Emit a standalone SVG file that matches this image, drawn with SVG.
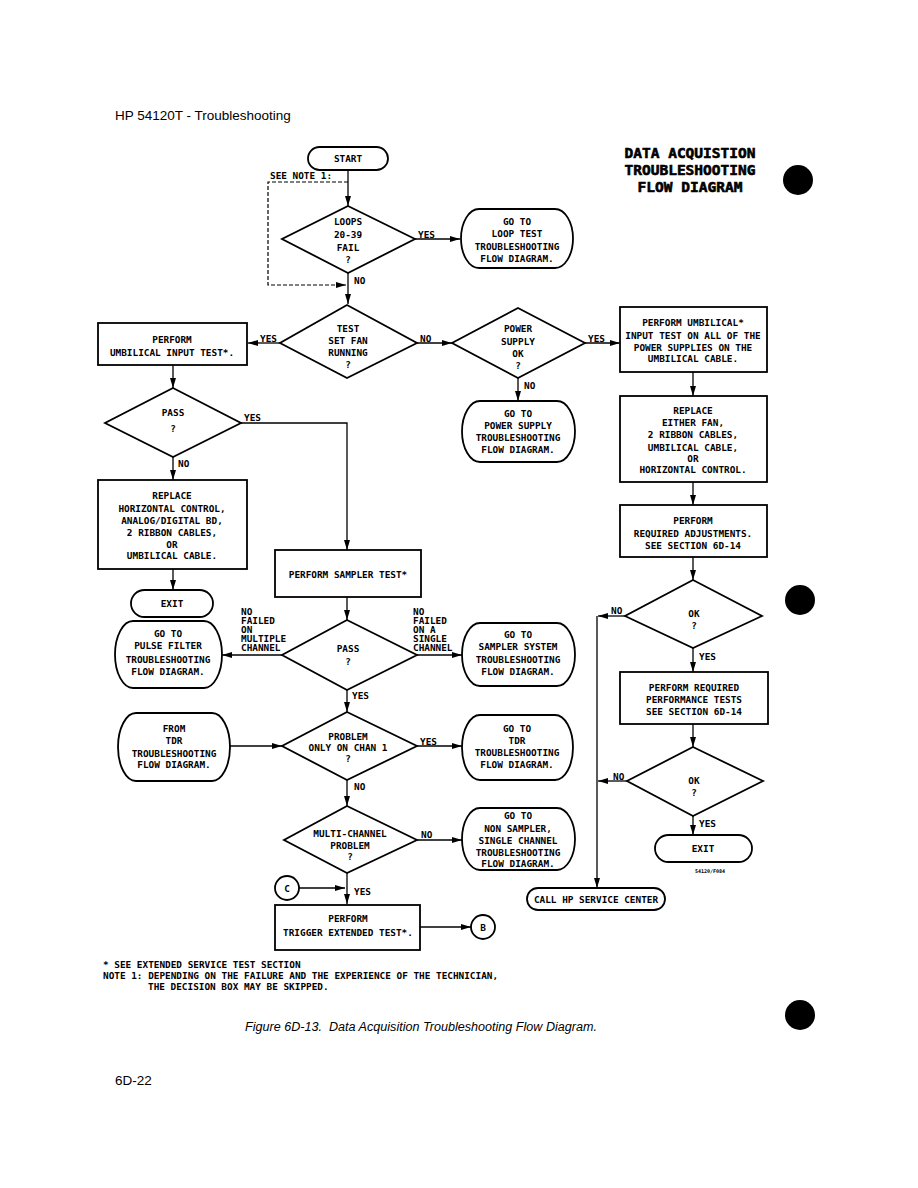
<svg xmlns="http://www.w3.org/2000/svg" width="918" height="1188" viewBox="0 0 918 1188">
<defs>
<marker id="ah" viewBox="0 0 10 6" refX="10" refY="3" markerWidth="10" markerHeight="6" markerUnits="userSpaceOnUse" orient="auto">
<path d="M0,0 L10,3 L0,6 Z" fill="#000"/>
</marker>
</defs>
<style>
.n{fill:#fff;stroke:#000;stroke-width:1.8}
.c{fill:none;stroke:#000;stroke-width:1.3;marker-end:url(#ah)}
.p{fill:none;stroke:#000;stroke-width:1.3}
.d{fill:none;stroke:#000;stroke-width:1.2;stroke-dasharray:4 2;marker-end:url(#ah)}
text{font-family:"DejaVu Sans Mono","Liberation Mono",monospace;font-weight:bold;font-size:9.4px;fill:#000;dominant-baseline:central}
.m{text-anchor:middle}
.s{text-anchor:start}
.ttl{font-size:14.5px;text-anchor:middle;stroke:#000;stroke-width:0.6}
.pg{font-family:"Liberation Sans",Arial,sans-serif;font-weight:normal;font-size:13.5px}
.cap{font-family:"Liberation Sans",Arial,sans-serif;font-weight:normal;font-style:italic;font-size:12.5px}
.tiny{font-size:5px;text-anchor:middle}
</style>
<rect width="918" height="1188" fill="#fff"/>

<text class="pg s" x="115" y="115">HP 54120T - Troubleshooting</text>
<g id="title">
<text class="ttl" x="690" y="153">DATA ACQUISTION</text>
<text class="ttl" x="690" y="170">TROUBLESHOOTING</text>
<text class="ttl" x="690" y="187">FLOW DIAGRAM</text>
</g>
<circle cx="798" cy="180" r="15" fill="#000"/>
<circle cx="800" cy="600" r="15" fill="#000"/>
<circle cx="800" cy="1015" r="15" fill="#000"/>

<g id="connectors">
<path class="c" d="M348,170 V206"/>
<path class="d" d="M348,182 H268 V285 H346"/>
<path class="c" d="M415,239 H460"/>
<path class="c" d="M348,273 V304"/>
<path class="c" d="M280,343 H248"/>
<path class="c" d="M417,343 H452"/>
<path class="c" d="M585,343 H620"/>
<path class="c" d="M518,378 V401"/>
<path class="c" d="M173,365 V388"/>
<path class="c" d="M241,423 H347 V550"/>
<path class="c" d="M173,457 V480"/>
<path class="c" d="M173,569 V590"/>
<path class="c" d="M347,597 V620"/>
<path class="c" d="M282,655 H222"/>
<path class="c" d="M417,655 H462"/>
<path class="c" d="M347,690 V712"/>
<path class="c" d="M230,746 H282"/>
<path class="c" d="M417,746 H462"/>
<path class="c" d="M347,780 V806"/>
<path class="c" d="M417,840 H462"/>
<path class="c" d="M347,873 V904"/>
<path class="c" d="M299,888 H345"/>
<path class="c" d="M418,927 H471"/>
<path class="c" d="M693,372 V396"/>
<path class="c" d="M693,482 V505"/>
<path class="c" d="M693,557 V580"/>
<path class="c" d="M625,616 H598"/>
<path class="c" d="M597,616 V888"/>
<path class="c" d="M693,648 V672"/>
<path class="c" d="M693,724 V747"/>
<path class="c" d="M627,781 H598"/>
<path class="c" d="M693,816 V835"/>
</g>

<g id="labels">
<text class="s" x="270" y="175">SEE NOTE 1:</text>
<text class="s" x="418" y="234">YES</text>
<text class="s" x="354" y="280">NO</text>
<text class="s" x="260" y="338">YES</text>
<text class="s" x="420" y="338">NO</text>
<text class="s" x="588" y="338">YES</text>
<text class="s" x="524" y="385">NO</text>
<text class="s" x="244" y="417">YES</text>
<text class="s" x="178" y="463">NO</text>
<text class="s" x="241" y="611">NO</text>
<text class="s" x="241" y="620">FAILED</text>
<text class="s" x="241" y="629">ON</text>
<text class="s" x="241" y="638">MULTIPLE</text>
<text class="s" x="241" y="647">CHANNEL</text>
<text class="s" x="413" y="611">NO</text>
<text class="s" x="413" y="620">FAILED</text>
<text class="s" x="413" y="629">ON A</text>
<text class="s" x="413" y="638">SINGLE</text>
<text class="s" x="413" y="647">CHANNEL</text>
<text class="s" x="352" y="695">YES</text>
<text class="s" x="420" y="741">YES</text>
<text class="s" x="354" y="786">NO</text>
<text class="s" x="421" y="834">NO</text>
<text class="s" x="354" y="891">YES</text>
<text class="s" x="611" y="610">NO</text>
<text class="s" x="699" y="656">YES</text>
<text class="s" x="613" y="776">NO</text>
<text class="s" x="699" y="823">YES</text>
<text class="tiny" x="710" y="871">54120/F084</text>
</g>

<g id="start"><rect class="n" x="308" y="147" width="80" height="23" rx="11.5"/><text class="m" x="348" y="158.5">START</text></g>

<g id="loops"><path class="n" d="M348,206 L415,239 L348,273 L282,239 Z"/>
<text class="m" x="348" y="221">LOOPS</text><text class="m" x="348" y="234">20-39</text><text class="m" x="348" y="247">FAIL</text><text class="m" x="348" y="259">?</text></g>

<g id="loopTest"><rect class="n" x="461" y="209" width="112" height="59" rx="18" ry="29.5"/>
<text class="m" x="517" y="221">GO TO</text><text class="m" x="517" y="233">LOOP TEST</text><text class="m" x="517" y="246">TROUBLESHOOTING</text><text class="m" x="517" y="258">FLOW DIAGRAM.</text></g>

<g id="fan"><path class="n" d="M347,305 L417,343 L347,378 L280,343 Z"/>
<text class="m" x="348" y="328">TEST</text><text class="m" x="348" y="340">SET FAN</text><text class="m" x="348" y="352">RUNNING</text><text class="m" x="348" y="364">?</text></g>

<g id="umbTest"><rect class="n" x="98" y="323" width="149" height="42"/>
<text class="m" x="172" y="339">PERFORM</text><text class="m" x="172" y="352">UMBILICAL INPUT TEST*.</text></g>

<g id="power"><path class="n" d="M518,308 L585,343 L518,378 L452,343 Z"/>
<text class="m" x="518" y="328">POWER</text><text class="m" x="518" y="341">SUPPLY</text><text class="m" x="518" y="353">OK</text><text class="m" x="518" y="365">?</text></g>

<g id="powerGo"><rect class="n" x="462" y="401" width="113" height="61" rx="18" ry="30.5"/>
<text class="m" x="518" y="413">GO TO</text><text class="m" x="518" y="425">POWER SUPPLY</text><text class="m" x="518" y="437">TROUBLESHOOTING</text><text class="m" x="518" y="449">FLOW DIAGRAM.</text></g>

<g id="umbAll"><rect class="n" x="620" y="307" width="147" height="65"/>
<text class="m" x="693" y="322">PERFORM UMBILICAL*</text><text class="m" x="693" y="335">INPUT TEST ON ALL OF THE</text><text class="m" x="693" y="347">POWER SUPPLIES ON THE</text><text class="m" x="693" y="358">UMBILICAL CABLE.</text></g>

<g id="replace2"><rect class="n" x="620" y="396" width="147" height="86"/>
<text class="m" x="693" y="410">REPLACE</text><text class="m" x="693" y="422">EITHER FAN,</text><text class="m" x="693" y="434">2 RIBBON CABLES,</text><text class="m" x="693" y="447">UMBILICAL CABLE,</text><text class="m" x="693" y="458">OR</text><text class="m" x="693" y="469">HORIZONTAL CONTROL.</text></g>

<g id="adjust"><rect class="n" x="620" y="505" width="147" height="52"/>
<text class="m" x="693" y="520">PERFORM</text><text class="m" x="693" y="533">REQUIRED ADJUSTMENTS.</text><text class="m" x="693" y="545">SEE SECTION 6D-14</text></g>

<g id="pass1"><path class="n" d="M173,388 L241,423 L173,457 L105,423 Z"/>
<text class="m" x="173" y="412">PASS</text><text class="m" x="173" y="428">?</text></g>

<g id="replace1"><rect class="n" x="98" y="480" width="149" height="89"/>
<text class="m" x="172" y="495">REPLACE</text><text class="m" x="172" y="508">HORIZONTAL CONTROL,</text><text class="m" x="172" y="520">ANALOG/DIGITAL BD,</text><text class="m" x="172" y="532">2 RIBBON CABLES,</text><text class="m" x="172" y="544">OR</text><text class="m" x="172" y="555">UMBILICAL CABLE.</text></g>

<g id="exit1"><rect class="n" x="131" y="590" width="82" height="27" rx="13.5"/><text class="m" x="172" y="603.5">EXIT</text></g>

<g id="sampler"><rect class="n" x="275" y="550" width="146" height="47"/>
<text class="m" x="348" y="574">PERFORM SAMPLER TEST*</text></g>

<g id="pass2"><path class="n" d="M347,620 L417,655 L347,690 L282,655 Z"/>
<text class="m" x="348" y="648">PASS</text><text class="m" x="348" y="661">?</text></g>

<g id="pulse"><rect class="n" x="115" y="621" width="107" height="67" rx="18" ry="33.5"/>
<text class="m" x="168" y="633">GO TO</text><text class="m" x="168" y="645">PULSE FILTER</text><text class="m" x="168" y="659">TROUBLESHOOTING</text><text class="m" x="168" y="671">FLOW DIAGRAM.</text></g>

<g id="samplerSys"><rect class="n" x="462" y="623" width="113" height="63" rx="18" ry="31.5"/>
<text class="m" x="518" y="634">GO TO</text><text class="m" x="518" y="646">SAMPLER SYSTEM</text><text class="m" x="518" y="659">TROUBLESHOOTING</text><text class="m" x="518" y="671">FLOW DIAGRAM.</text></g>

<g id="fromTdr"><rect class="n" x="118" y="713" width="112" height="68" rx="18" ry="34"/>
<text class="m" x="174" y="728">FROM</text><text class="m" x="174" y="740">TDR</text><text class="m" x="174" y="753">TROUBLESHOOTING</text><text class="m" x="174" y="764">FLOW DIAGRAM.</text></g>

<g id="problem"><path class="n" d="M347,712 L417,746 L347,780 L282,746 Z"/>
<text class="m" x="348" y="736">PROBLEM</text><text class="m" x="348" y="747">ONLY ON CHAN 1</text><text class="m" x="348" y="758">?</text></g>

<g id="tdrGo"><rect class="n" x="462" y="715" width="111" height="65" rx="18" ry="32.5"/>
<text class="m" x="517" y="728">GO TO</text><text class="m" x="517" y="740">TDR</text><text class="m" x="517" y="752">TROUBLESHOOTING</text><text class="m" x="517" y="764">FLOW DIAGRAM.</text></g>

<g id="multi"><path class="n" d="M347,806 L417,840 L347,873 L284,840 Z"/>
<text class="m" x="350" y="833">MULTI-CHANNEL</text><text class="m" x="350" y="845">PROBLEM</text><text class="m" x="350" y="856">?</text></g>

<g id="nonSampler"><rect class="n" x="462" y="808" width="113" height="62" rx="18" ry="31"/>
<text class="m" x="518" y="815">GO TO</text><text class="m" x="518" y="828">NON SAMPLER,</text><text class="m" x="518" y="840">SINGLE CHANNEL</text><text class="m" x="518" y="852">TROUBLESHOOTING</text><text class="m" x="518" y="863">FLOW DIAGRAM.</text></g>

<g id="c"><circle class="n" cx="287" cy="888" r="12"/><text class="m" x="287" y="888">C</text></g>

<g id="trigger"><rect class="n" x="275" y="905" width="145" height="45"/>
<text class="m" x="348" y="918">PERFORM</text><text class="m" x="348" y="932">TRIGGER EXTENDED TEST*.</text></g>

<g id="b"><circle class="n" cx="483" cy="927" r="12"/><text class="m" x="483" y="927">B</text></g>

<g id="ok1"><path class="n" d="M693,580 L762,616 L693,648 L625,616 Z"/>
<text class="m" x="694" y="613">OK</text><text class="m" x="694" y="625">?</text></g>

<g id="perfTests"><rect class="n" x="620" y="672" width="148" height="52"/>
<text class="m" x="694" y="687">PERFORM REQUIRED</text><text class="m" x="694" y="699">PERFORMANCE TESTS</text><text class="m" x="694" y="711">SEE SECTION 6D-14</text></g>

<g id="ok2"><path class="n" d="M693,747 L763,781 L693,816 L627,781 Z"/>
<text class="m" x="694" y="780">OK</text><text class="m" x="694" y="792">?</text></g>

<g id="exit2"><rect class="n" x="655" y="835" width="97" height="27" rx="13.5"/><text class="m" x="703" y="848.5">EXIT</text></g>

<g id="service"><rect class="n" x="527" y="888" width="138" height="22" rx="11"/><text class="m" x="596" y="899">CALL HP SERVICE CENTER</text></g>

<g id="notes">
<text class="s" x="103" y="964">* SEE EXTENDED SERVICE TEST SECTION</text>
<text class="s" x="103" y="975">NOTE 1: DEPENDING ON THE FAILURE AND THE EXPERIENCE OF THE TECHNICIAN,</text>
<text class="s" x="148" y="986">THE DECISION BOX MAY BE SKIPPED.</text>
</g>
<text class="cap s" x="245" y="1027" textLength="352" lengthAdjust="spacingAndGlyphs">Figure 6D-13.&#160; Data Acquisition Troubleshooting Flow Diagram.</text>
<text class="pg s" x="115" y="1080">6D-22</text>
</svg>
